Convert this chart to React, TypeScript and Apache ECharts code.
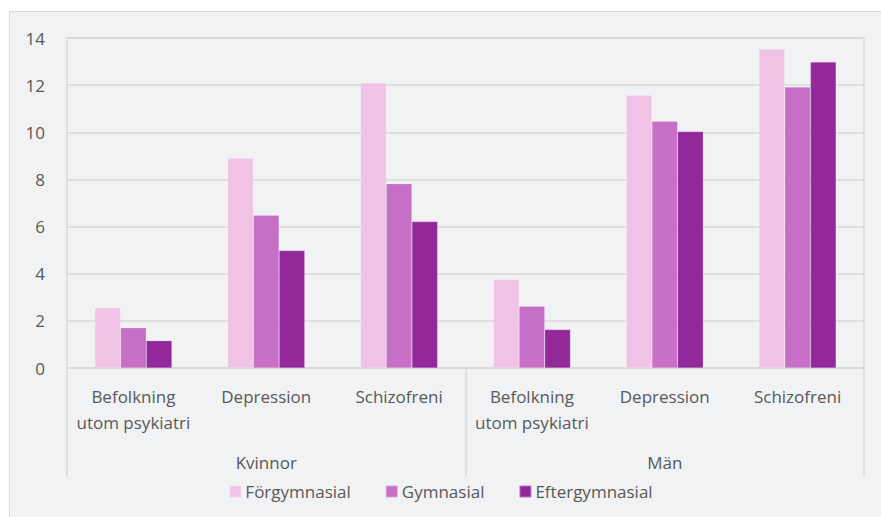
import React, { useEffect, useRef } from "react";
import * as echarts from "echarts";

const categories = [
  "Befolkning\nutom psykiatri",
  "Depression",
  "Schizofreni",
  "Befolkning\nutom psykiatri",
  "Depression",
  "Schizofreni",
];
const groups = ["Kvinnor", "Män"];
const seriesNames = ["Förgymnasial", "Gymnasial", "Eftergymnasial"];
const forgymnasial = [2.56, 8.9, 12.09, 3.75, 11.57, 13.52];
const gymnasial = [1.71, 6.48, 7.82, 2.62, 10.47, 11.92];
const eftergymnasial = [1.16, 4.98, 6.21, 1.63, 10.03, 12.98];
const colors = ["#F0C2E6", "#C76FC7", "#92289A"];

const FONT = "Open Sans";
const FS = 17;
const TEXT = "#595959";
const LINE = "#D9D9D9";

export default function App() {
  const ref = useRef<HTMLDivElement>(null);

  useEffect(() => {
    if (!ref.current) return;
    const chart = echarts.init(ref.current, null, { renderer: "svg" });
    const values = [forgymnasial, gymnasial, eftergymnasial];
    chart.setOption({
      animation: false,
      textStyle: { fontFamily: FONT },
      graphic: [
        {
          type: "rect",
          z: -10,
          shape: { x: 9.5, y: 11.5, width: 880, height: 520 },
          style: { fill: "#F1F2F4", stroke: LINE, lineWidth: 1 },
          silent: true,
        },
      ],
      grid: {
        left: 67,
        right: 17,
        top: 38,
        bottom: 149,
        show: true,
        borderColor: LINE,
        borderWidth: 1.5,
      },
      legend: {
        data: seriesNames,
        bottom: 12,
        left: "center",
        itemWidth: 12,
        itemHeight: 12,
        itemGap: 34,
        icon: "rect",
        textStyle: { color: TEXT, fontSize: FS, fontFamily: FONT, padding: [0, 0, 0, -1] },
      },
      xAxis: [
        {
          type: "category",
          data: categories,
          position: "bottom",
          axisLine: { show: true, lineStyle: { color: LINE, width: 1.5 } },
          axisTick: { show: false },
          axisLabel: {
            color: TEXT,
            fontSize: FS,
            fontFamily: FONT,
            lineHeight: 26,
            margin: 15,
            interval: 0,
          },
        },
        {
          type: "category",
          data: groups,
          position: "bottom",
          offset: 109,
          boundaryGap: true,
          axisLine: { show: false },
          axisTick: {
            show: true,
            inside: true,
            length: 109,
            lineStyle: { color: LINE, width: 1.5 },
          },
          axisLabel: {
            inside: true,
            margin: 6,
            color: TEXT,
            fontSize: FS,
            fontFamily: FONT,
          },
        },
      ],
      yAxis: {
        type: "value",
        min: 0,
        max: 14,
        interval: 2,
        axisLine: { show: false },
        axisTick: { show: false },
        splitLine: { lineStyle: { color: LINE, width: 1.5 } },
        axisLabel: { color: TEXT, fontSize: FS, fontFamily: FONT, margin: 22 },
      },
      series: seriesNames.map((name, i) => ({
        name,
        type: "bar",
        xAxisIndex: 0,
        data: values[i],
        barGap: "0%",
        barCategoryGap: "42%",
        itemStyle: { color: colors[i], borderColor: "rgba(255,255,255,0.35)", borderWidth: 0.5 },
      })),
    });
    return () => chart.dispose();
  }, []);

  return (
    <div
      ref={ref}
      style={{ position: "absolute", left: 0, top: 0, width: 881, height: 517 }}
    />
  );
}
